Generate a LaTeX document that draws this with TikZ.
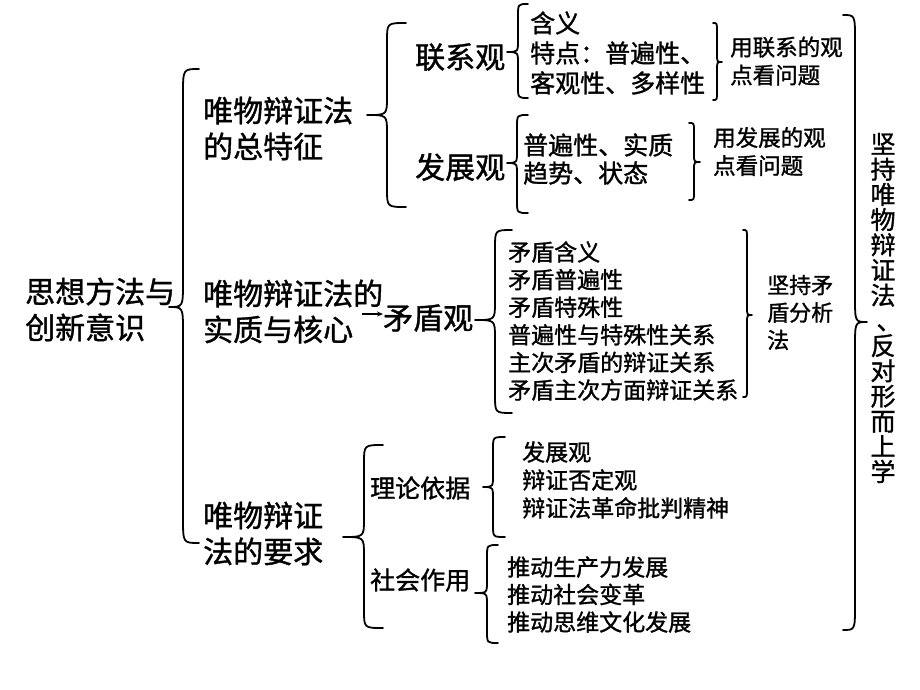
\documentclass[tikz,border=0pt]{standalone}
\usepackage{fontspec}
\newfontfamily\cjk[FakeBold=1.2]{Noto Sans CJK SC}
\usetikzlibrary{arrows.meta}
\newcommand{\bracel}[7]{%
  \draw[brc] (#1,#4) .. controls (#2,#4) .. (#2,#4+#7) -- (#2,#5-#7)
    .. controls (#2,#5) .. (#3,#5) .. controls (#2,#5) .. (#2,#5+#7)
    -- (#2,#6-#7) .. controls (#2,#6) .. (#1,#6);}
\tikzset{
  brc/.style={line width=1.8pt, line cap=round, line join=round},
  txt/.style={inner sep=0pt, anchor=west, align=left},
  bigt/.style={txt, font={\cjk\fontsize{30}{36}\selectfont}},
  midt/.style={txt, font={\cjk\fontsize{25}{30}\selectfont}},
  itemt/.style={txt, font={\cjk\fontsize{23}{27.6}\selectfont}},
  smallt/.style={txt, font={\cjk\fontsize{22.5}{28}\selectfont}},
  vertt/.style={inner sep=0pt, align=center, font={\cjk\fontsize{25}{25.2}\selectfont}},
  arr/.style={line width=1.2pt, -{Stealth[length=6pt,width=5pt]}}
}
\begin{document}
\begin{tikzpicture}[x=1pt,y=-1pt]
\useasboundingbox (0,0) rectangle (920,690);
% text nodes
\node[bigt] (root) at (25,309.5) {思想方法与\\创新意识};
\node[bigt] (zt) at (203,128.5) {唯物辩证法\\的总特征};
\node[bigt] (lx) at (415,57) {联系观};
\node[bigt] (fz) at (415,167) {发展观};
\node[midt] (lxi) at (530,53) {含义\\特点：普遍性、\\客观性、多样性};
\node[smallt] (lxr) at (730,61) {用联系的观\\点看问题};
\node[midt, font={\cjk\fontsize{25}{28}\selectfont}] (fzi) at (523,159) {普遍性、实质\\趋势、状态};
\node[smallt] (fzr) at (713,151.5) {用发展的观\\点看问题};
\node[bigt] (hx) at (203,311.5) {唯物辩证法的\\实质与核心};
\node[bigt] (mdg) at (383,318) {矛盾观};
\node[itemt] (mdi) at (508,321) {矛盾含义\\矛盾普遍性\\矛盾特殊性\\普遍性与特殊性关系\\主次矛盾的辩证关系\\矛盾主次方面辩证关系};
\node[smallt, font={\cjk\fontsize{22}{27.5}\selectfont}] (mdr) at (767,312.5) {坚持矛\\盾分析\\法};
\node[bigt] (yq) at (203,533.5) {唯物辩证\\法的要求};
\node[midt] (ll) at (370,488) {理论依据};
\node[midt] (sh) at (370,580) {社会作用};
\node[itemt, font={\cjk\fontsize{23}{28}\selectfont}] (lli) at (522,480) {发展观\\辩证否定观\\辩证法革命批判精神};
\node[itemt, font={\cjk\fontsize{23}{27.5}\selectfont}] (shi) at (507,594.5) {推动生产力发展\\推动社会变革\\推动思维文化发展};
\node[vertt] (vt) at (883,308) {坚\\持\\唯\\物\\辩\\证\\法\\\makebox[25pt][l]{\hspace{6pt}、}\\反\\对\\形\\而\\上\\学};
% arrow
\coordinate (as) at (362,314);
\draw[arr] (as) -- (as -| mdg.west);
% braces
\bracel{199}{183}{169}{69}{307}{543}{25}
\bracel{406}{387}{367}{23}{115}{207}{18}
\bracel{528}{518}{507}{4}{52}{98}{12}
\bracel{528}{517}{507}{115}{163}{213}{12}
\bracel{713}{717}{722}{23}{62}{100}{8}
\bracel{689}{694}{700}{123}{162}{200}{8}
\bracel{512}{495}{475}{230}{320}{413}{18}
\bracel{743}{747}{752}{230}{315}{397}{8}
\bracel{843}{855}{867}{15}{322}{630}{25}
\bracel{383}{364}{343}{445}{537}{628}{18}
\bracel{505}{493}{483}{437}{487}{537}{12}
\bracel{498}{487}{475}{545}{593}{643}{12}
\end{tikzpicture}
\end{document}
